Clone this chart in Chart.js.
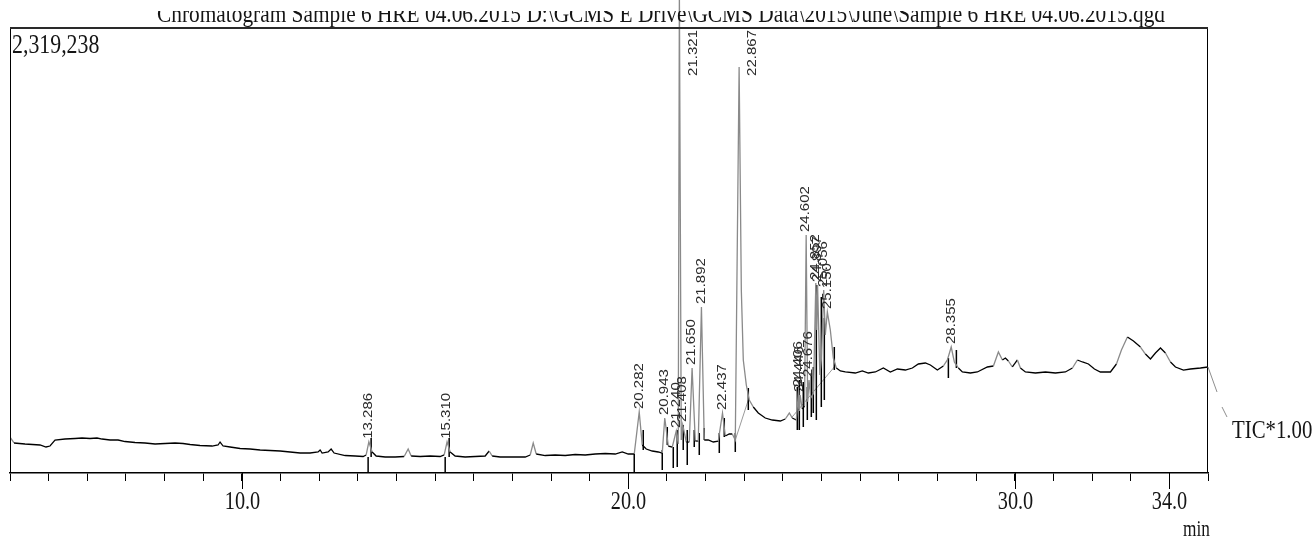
<!DOCTYPE html>
<html>
<head>
<meta charset="utf-8">
<script src="https://cdn.jsdelivr.net/npm/chart.js@4.4.1/dist/chart.umd.min.js"></script>
<style>
  html, body { margin: 0; padding: 0; background: #fff; }
</style>
</head>
<body>
<canvas id="myChart" width="1316" height="541"></canvas>
<script>
const title = 'Chromatogram Sample 6 HRE 04.06.2015 D:\\GCMS E Drive\\GCMS Data\\2015\\June\\Sample 6 HRE 04.06.2015.qgd'
const fullScale = '2,319,238'
const traceName = 'TIC*1.00'
const tickLabels = [10, 20, 30, 34]

// retention time (min) and intensity (% of full scale)
const traceTime = [
  4.000, 4.104, 4.388, 4.777, 4.932, 5.035, 5.165, 5.424, 5.683, 5.864,
  6.071, 6.252, 6.382, 6.589, 6.796, 6.977, 7.236, 7.495, 7.754, 8.012,
  8.271, 8.478, 8.660, 8.918, 9.229, 9.384, 9.436, 9.514, 9.695, 9.954,
  10.213, 10.472, 10.731, 10.990, 11.248, 11.507, 11.766, 11.973, 12.025, 12.077,
  12.232, 12.310, 12.387, 12.672, 12.931, 13.138, 13.216, 13.286, 13.371, 13.475,
  13.708, 13.966, 14.199, 14.303, 14.381, 14.614, 14.873, 15.131, 15.235, 15.310,
  15.390, 15.519, 15.778, 16.037, 16.296, 16.399, 16.477, 16.684, 17.073, 17.332,
  17.461, 17.539, 17.617, 17.850, 18.108, 18.367, 18.626, 18.885, 19.144, 19.403,
  19.662, 19.843, 19.998, 20.153, 20.282, 20.360, 20.464, 20.619, 20.775, 20.878,
  20.943, 21.034, 21.137, 21.240, 21.292, 21.321, 21.370, 21.408, 21.500, 21.577,
  21.650, 21.733, 21.810, 21.892, 21.965, 22.069, 22.198, 22.328, 22.437, 22.509,
  22.612, 22.690, 22.768, 22.867, 22.924, 22.975, 23.053, 23.130, 23.234, 23.363,
  23.544, 23.726, 23.933, 24.062, 24.166, 24.243, 24.347, 24.406, 24.426, 24.446,
  24.500, 24.560, 24.602, 24.640, 24.676, 24.720, 24.790, 24.852, 24.875, 24.897,
  24.956, 24.994, 25.056, 25.097, 25.150, 25.227, 25.305, 25.383, 25.486, 25.615,
  25.874, 26.055, 26.211, 26.392, 26.599, 26.780, 26.962, 27.169, 27.350, 27.505,
  27.686, 27.816, 27.997, 28.152, 28.256, 28.355, 28.437, 28.541, 28.644, 28.851,
  29.032, 29.291, 29.447, 29.576, 29.680, 29.757, 29.835, 29.938, 30.068, 30.146,
  30.275, 30.534, 30.793, 31.052, 31.310, 31.492, 31.621, 31.751, 31.906, 32.061,
  32.216, 32.475, 32.631, 32.760, 32.915, 33.071, 33.252, 33.381, 33.511, 33.640,
  33.770, 33.899, 34.029, 34.158, 34.365, 34.546, 34.805, 35.000
]
const traceInt = [
  8.07, 6.73, 6.50, 6.28, 5.83, 6.05, 7.40, 7.62, 7.74, 7.85,
  7.74, 7.85, 7.62, 7.40, 7.40, 7.06, 6.84, 6.73, 6.50, 6.61,
  6.73, 6.61, 6.39, 6.17, 6.05, 6.28, 6.95, 6.05, 5.83, 5.49,
  5.38, 5.16, 5.04, 4.93, 4.71, 4.48, 4.48, 4.71, 5.16, 4.48,
  4.71, 5.38, 4.48, 3.92, 3.81, 3.70, 4.04, 7.00, 4.71, 3.81,
  3.59, 3.59, 3.70, 5.38, 3.81, 3.70, 3.81, 3.70, 4.04, 7.00,
  4.71, 3.81, 3.59, 3.70, 3.81, 4.93, 3.81, 3.59, 3.59, 3.59,
  4.04, 6.73, 4.26, 3.92, 4.04, 3.92, 4.15, 4.04, 4.26, 4.37,
  4.26, 4.71, 4.26, 4.26, 13.68, 6.28, 5.38, 4.93, 4.71, 4.48,
  12.33, 6.05, 5.83, 9.40, 6.50, 108.0, 7.40, 10.76, 6.95, 6.95,
  23.54, 7.17, 7.17, 37.22, 7.40, 7.40, 6.95, 7.17, 13.45, 8.30,
  8.74, 8.74, 7.40, 91.03, 41.03, 25.34, 19.73, 16.37, 14.80, 13.45,
  12.33, 11.88, 11.66, 12.11, 13.45, 12.33, 11.88, 18.61, 13.90, 17.49,
  14.35, 15.00, 53.36, 16.00, 20.85, 16.80, 17.80, 42.60, 32.06, 42.15,
  21.97, 25.34, 41.03, 30.94, 36.10, 32.06, 25.78, 23.54, 22.87, 22.65,
  22.42, 22.87, 22.42, 22.65, 23.54, 22.65, 23.32, 23.09, 23.54, 24.44,
  24.66, 24.22, 23.09, 23.99, 25.34, 28.25, 24.89, 23.54, 22.65, 22.42,
  22.65, 23.77, 23.99, 27.13, 25.34, 25.78, 25.11, 23.77, 25.34, 23.54,
  22.65, 22.42, 22.65, 22.42, 22.65, 23.54, 25.34, 24.89, 24.44, 23.32,
  22.65, 22.65, 24.44, 27.58, 30.49, 29.60, 28.25, 26.68, 25.56, 26.91,
  28.03, 26.91, 24.89, 23.77, 23.09, 23.32, 23.54, 23.77
]

// labelled peaks: retention time and apex height
const peakTime = [13.286, 15.310, 20.282, 20.943, 21.240, 21.321, 21.408, 21.650, 21.892, 22.437,
  22.867, 24.406, 24.446, 24.602, 24.676, 24.852, 24.897, 25.056, 25.150, 28.355]
const peakInt = [7.00, 7.00, 13.68, 12.33, 9.40, 108.0, 10.76, 23.54, 37.22, 13.45,
  91.03, 18.61, 17.49, 53.36, 20.85, 42.60, 42.15, 41.03, 36.10, 28.25]

// peak start / end markers (black vertical strokes)
const markTime = [13.267, 13.345, 15.261, 15.364, 20.153, 20.386, 20.878, 21.008, 21.163, 21.266,
  21.421, 21.525, 21.706, 21.836, 21.965, 22.354, 22.483, 22.768, 23.105, 24.373,
  24.425, 24.528, 24.632, 24.735, 24.787, 24.865, 24.994, 25.072, 25.330, 28.282, 28.489]
const markTop = [3.59, 7.85, 3.59, 7.85, 4.48, 9.64, 5.16, 10.31, 5.83, 9.64,
  10.76, 9.64, 9.64, 8.97, 10.09, 8.97, 12.33, 8.97, 19.06, 19.28,
  20.85, 20.40, 19.28, 22.42, 23.77, 42.15, 39.46, 34.75, 28.25, 25.78, 27.58]
const markBottom = [0, 3.59, 0, 3.59, 0, 5.16, 0.67, 6.28, 1.12, 1.35,
  5.16, 1.79, 5.83, 4.04, 7.40, 4.48, 8.07, 4.71, 14.13, 9.64,
  9.64, 10.31, 11.88, 12.56, 13.45, 11.88, 14.80, 16.37, 23.09, 21.30, 23.54]

// integration baselines
const baseStartTime = [22.768, 24.217]
const baseStartInt = [7.40, 12.33]
const baseEndTime = [23.105, 25.330]
const baseEndInt = [16.37, 23.77]

const serif = '"Liberation Serif", "Times New Roman", serif'
const sans = '"Liberation Sans", Arial, sans-serif'
const squeeze = 0.78

function slopeColor(c) {
  const dx = Math.abs(c.p1.x - c.p0.x)
  const dy = Math.abs(c.p1.y - c.p0.y)
  return dy > 1.2 * dx + 1 ? '#8a8a8a' : '#000'
}

const markers = []
markTime.forEach(function(t, i) {
  markers.push({x: t, y: markTop[i]}, {x: t, y: markBottom[i]}, {x: t, y: null})
})
const baselines = []
baseStartTime.forEach(function(t, i) {
  baselines.push({x: t, y: baseStartInt[i]}, {x: baseEndTime[i], y: baseEndInt[i]}, {x: baseEndTime[i], y: null})
})

function squeezedText(ctx, text, x, y, size, align, k) {
  ctx.save()
  ctx.font = size + 'px ' + serif
  ctx.textBaseline = 'alphabetic'
  const w = ctx.measureText(text).width * k
  let left = x
  if (align === 'center') left = x - w / 2
  ctx.translate(left, y)
  ctx.scale(k, 1)
  ctx.textAlign = 'left'
  ctx.fillText(text, 0, 0)
  ctx.restore()
}

const decorations = {
  id: 'decorations',
  afterDraw(chart) {
    const ctx = chart.ctx
    const a = chart.chartArea
    const xs = chart.scales.x
    ctx.save()
    ctx.fillStyle = '#151515'
    // frame
    ctx.strokeStyle = '#000'
    ctx.lineWidth = 1
    ctx.beginPath()
    ctx.moveTo(a.left + 0.5, a.top); ctx.lineTo(a.left + 0.5, a.bottom)
    ctx.moveTo(a.right - 0.5, a.top); ctx.lineTo(a.right - 0.5, a.bottom)
    ctx.stroke()
    ctx.strokeStyle = '#2a2a2a'
    ctx.lineWidth = 2
    ctx.beginPath()
    ctx.moveTo(a.left, a.top + 1); ctx.lineTo(a.right, a.top + 1)
    ctx.stroke()
    // longer major ticks and their labels
    ctx.strokeStyle = '#000'
    ctx.lineWidth = 1
    tickLabels.forEach(function(v) {
      const x = Math.round(xs.getPixelForValue(v)) + 0.5
      ctx.beginPath()
      ctx.moveTo(x, a.bottom); ctx.lineTo(x, a.bottom + 16)
      ctx.stroke()
      squeezedText(ctx, v.toFixed(1), x, a.bottom + 36, 26, 'center', squeeze)
    })
    squeezedText(ctx, 'min', 1183, 536, 24, 'left', 0.72)
    // full-scale value
    squeezedText(ctx, fullScale, 12, 53, 28, 'left', squeeze)
    // trace name with leader
    const meta = chart.getDatasetMeta(0)
    const last = meta.data[meta.data.length - 1]
    ctx.strokeStyle = '#8e8e8e'
    ctx.beginPath()
    ctx.moveTo(last.x, last.y); ctx.lineTo(last.x + 9, last.y + 25)
    ctx.moveTo(last.x + 14, last.y + 40); ctx.lineTo(last.x + 19, last.y + 50)
    ctx.stroke()
    squeezedText(ctx, traceName, 1232, 438, 26, 'left', 0.8)
    // title, top of glyphs cut off
    ctx.beginPath()
    ctx.rect(0, 11, chart.width, 20)
    ctx.clip()
    ctx.font = '26px ' + serif
    const tw = ctx.measureText(title).width
    ctx.save()
    ctx.translate(157, 22)
    ctx.scale(1008 / tw, 1)
    ctx.fillText(title, 0, 0)
    ctx.restore()
    ctx.restore()
  }
}

const peakLabels = {
  id: 'peakLabels',
  afterDatasetsDraw(chart) {
    const ctx = chart.ctx
    const a = chart.chartArea
    const xs = chart.scales.x
    const ys = chart.scales.y
    ctx.save()
    ctx.font = '15px ' + sans
    ctx.fillStyle = '#2c2c2c'
    peakTime.forEach(function(t, i) {
      const text = t.toFixed(3)
      const w = ctx.measureText(text).width
      let x = xs.getPixelForValue(t)
      let y = ys.getPixelForValue(peakInt[i]) - 3
      if (y - w < a.top + 3) {
        x += 14
        y = a.top + 3 + w
      }
      ctx.save()
      ctx.translate(x, y)
      ctx.rotate(-Math.PI / 2)
      ctx.scale(1, 0.8)
      ctx.textAlign = 'left'
      ctx.textBaseline = 'middle'
      ctx.fillText(text, 0, 0)
      ctx.restore()
    })
    ctx.restore()
  }
}

const ctx = document.getElementById('myChart').getContext('2d')
const myChart = new Chart(ctx, {
  type: 'line',
  data: {
    datasets: [{
      label: traceName,
      data: traceTime.map(function(t, i) { return {x: t, y: traceInt[i]} }),
      borderColor: '#000',
      borderWidth: 1.3,
      pointRadius: 0,
      tension: 0,
      clip: {left: 0, top: 30, right: 0, bottom: 0},
      segment: { borderColor: slopeColor }
    }, {
      label: 'markers',
      data: markers,
      borderColor: '#000',
      borderWidth: 1.5,
      pointRadius: 0,
      spanGaps: false
    }, {
      label: 'baselines',
      data: baselines,
      borderColor: '#9a9a9a',
      borderWidth: 1,
      pointRadius: 0,
      spanGaps: false
    }]
  },
  options: {
    responsive: false,
    animation: false,
    devicePixelRatio: 1,
    layout: { padding: {left: 10, right: 108, top: 27, bottom: 0} },
    plugins: { legend: { display: false }, tooltip: { enabled: false } },
    scales: {
      x: {
        type: 'linear',
        min: 4,
        max: 35,
        afterFit: function(scale) { scale.height = 68 },
        ticks: { stepSize: 1, autoSkip: false, callback: function() { return '' } },
        grid: { drawOnChartArea: false, drawTicks: true, tickLength: 8, color: '#000', lineWidth: 1 },
        border: { display: true, color: '#000', width: 1.5 }
      },
      y: { min: 0, max: 100, display: false }
    }
  },
  plugins: [decorations, peakLabels]
})
</script>
</body>
</html>
